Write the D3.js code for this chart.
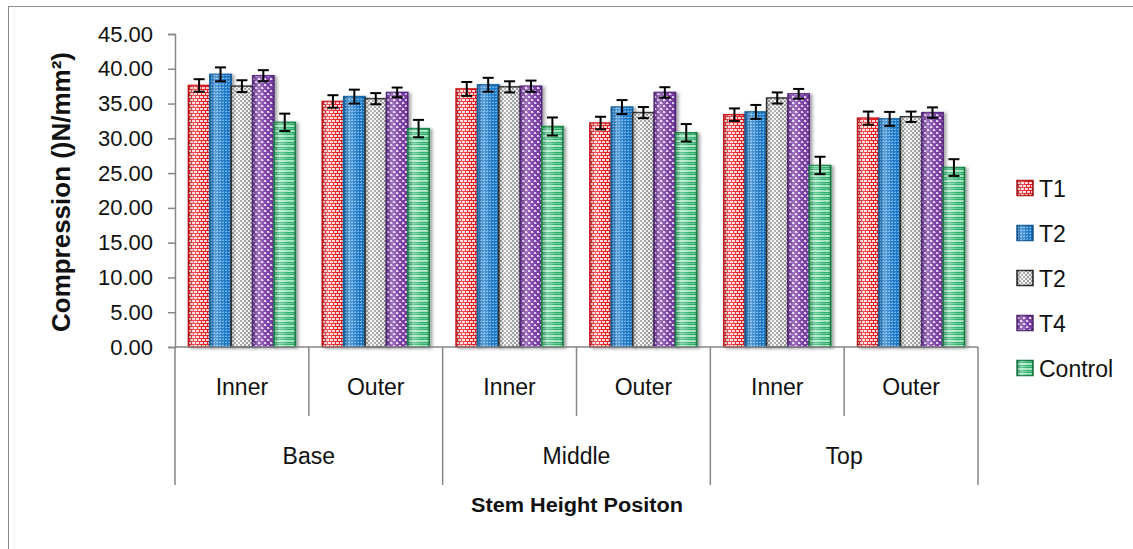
<!DOCTYPE html>
<html><head><meta charset="utf-8">
<script src="https://cdn.jsdelivr.net/npm/d3@7"></script>
<style>
html,body{margin:0;padding:0;background:#fff;}
svg{display:block;font-family:'Liberation Sans',Arial,sans-serif;}
</style></head>
<body>
<svg id="chart" width="1133" height="549"></svg>
<script>
// ---- data ----
const positions = ["Base", "Middle", "Top"];
const sides = ["Inner", "Outer"];
const seriesNames = ["T1", "T2", "T2", "T4", "Control"];
const yTicks = [0, 5, 10, 15, 20, 25, 30, 35, 40, 45];
// order: Base Inner, Base Outer, Middle Inner, Middle Outer, Top Inner, Top Outer
const t1Values = [37.6, 35.3, 37.1, 32.2, 33.4, 32.9];
const t2Values = [39.2, 36.0, 37.7, 34.5, 33.8, 32.8];
const t3Values = [37.5, 35.7, 37.4, 33.7, 35.8, 33.1];
const t4Values = [39.0, 36.6, 37.5, 36.6, 36.4, 33.7];
const controlValues = [32.3, 31.4, 31.7, 30.8, 26.1, 25.8];
const t1Err = [0.9, 0.9, 1.0, 0.9, 0.9, 0.95];
const t2Err = [1.0, 1.0, 1.0, 1.0, 1.0, 1.0];
const t3Err = [0.85, 0.8, 0.8, 0.8, 0.8, 0.75];
const t4Err = [0.8, 0.7, 0.8, 0.75, 0.7, 0.75];
const controlErr = [1.25, 1.25, 1.3, 1.25, 1.25, 1.2];
const xTitle = "Stem Height Positon";
const yTitle = "Compression ()N/mm\u00B2)";

const seriesValues = [t1Values, t2Values, t3Values, t4Values, controlValues];
const seriesErr = [t1Err, t2Err, t3Err, t4Err, controlErr];
const categories = [];
positions.forEach(p => sides.forEach(s => categories.push(p + "|" + s)));

// ---- layout ----
const svg = d3.select("#chart");
const L = 175, R = 978, T = 34, B = 347;
const x0 = d3.scaleBand().domain(categories).range([L, R]).paddingInner(0).paddingOuter(0);
const x1 = d3.scaleBand().domain(d3.range(seriesNames.length)).range([0, x0.bandwidth()]).paddingInner(0).paddingOuter(0.625);
const y = d3.scaleLinear().domain([0, 45]).range([B, T]);

// outer border
svg.append("rect").attr("x", 8.5).attr("y", 6.5).attr("width", 1140).attr("height", 560)
  .attr("fill", "#fff").attr("stroke", "#8c8c8c").attr("stroke-width", 1);

// ---- defs: patterns ----
const defs = svg.append("defs");
const styles = [
  {bg: "#ec1c24", stroke: "#d4141b", legendBorder: "#b31217"},
  {bg: "#1b78c8", stroke: "#156aa8", legendBorder: "#0f5a94"},
  {bg: "#ffffff", stroke: "#333333", legendBorder: "#222"},
  {bg: "#7b3fa6", stroke: "#5c2c86", legendBorder: "#4d2672"},
  {bg: "#2fb46e", stroke: "#1b8a4c", legendBorder: "#137a40"}
];
// T1 brick
let p = defs.append("pattern").attr("id", "pat0").attr("patternUnits", "userSpaceOnUse").attr("width", 8).attr("height", 6);
p.append("rect").attr("width", 8).attr("height", 6).attr("fill", "#ec1c24");
p.append("rect").attr("x", 0).attr("y", 0).attr("width", 3).attr("height", 2).attr("fill", "#fff").attr("opacity", 0.85);
p.append("rect").attr("x", 4).attr("y", 0).attr("width", 3).attr("height", 2).attr("fill", "#fff").attr("opacity", 0.85);
p.append("rect").attr("x", 2).attr("y", 3).attr("width", 3).attr("height", 2).attr("fill", "#fff").attr("opacity", 0.85);
p.append("rect").attr("x", 6).attr("y", 3).attr("width", 2).attr("height", 2).attr("fill", "#fff").attr("opacity", 0.85);
p.append("rect").attr("x", 0).attr("y", 3).attr("width", 1).attr("height", 2).attr("fill", "#fff").attr("opacity", 0.85);
// T2 blue dotted grid
p = defs.append("pattern").attr("id", "pat1").attr("patternUnits", "userSpaceOnUse").attr("width", 3).attr("height", 3);
p.append("rect").attr("width", 3).attr("height", 3).attr("fill", "#1b78c8");
p.append("rect").attr("x", 0).attr("y", 0).attr("width", 2).attr("height", 1).attr("fill", "#8cc8f5").attr("opacity", 0.8);
p.append("rect").attr("x", 1).attr("y", 2).attr("width", 1).attr("height", 1).attr("fill", "#6fb4ea").attr("opacity", 0.7);
// T3 checker
p = defs.append("pattern").attr("id", "pat2").attr("patternUnits", "userSpaceOnUse").attr("width", 4).attr("height", 4);
p.append("rect").attr("width", 4).attr("height", 4).attr("fill", "#f4f4f4");
p.append("rect").attr("x", 0).attr("y", 0).attr("width", 2).attr("height", 2).attr("fill", "#a0a0a0");
p.append("rect").attr("x", 2).attr("y", 2).attr("width", 2).attr("height", 2).attr("fill", "#a0a0a0");
// T4 purple dots diamond
p = defs.append("pattern").attr("id", "pat3").attr("patternUnits", "userSpaceOnUse").attr("width", 6).attr("height", 6);
p.append("rect").attr("width", 6).attr("height", 6).attr("fill", "#7b3fa6");
p.append("rect").attr("x", 0).attr("y", 0).attr("width", 2).attr("height", 2).attr("fill", "#e6d2f5");
p.append("rect").attr("x", 3).attr("y", 3).attr("width", 2).attr("height", 2).attr("fill", "#e6d2f5");
p.append("rect").attr("x", 2).attr("y", 1).attr("width", 1).attr("height", 1).attr("fill", "#b68bd8");
p.append("rect").attr("x", 5).attr("y", 4).attr("width", 1).attr("height", 1).attr("fill", "#b68bd8");
// Control horizontal stripes
p = defs.append("pattern").attr("id", "pat4").attr("patternUnits", "userSpaceOnUse").attr("width", 4).attr("height", 5);
p.append("rect").attr("width", 4).attr("height", 5).attr("fill", "#2fb46e");
p.append("rect").attr("x", 0).attr("y", 0).attr("width", 4).attr("height", 2).attr("fill", "#b9efd1").attr("opacity", 0.9);
p.append("rect").attr("x", 0).attr("y", 3).attr("width", 4).attr("height", 1).attr("fill", "#8fdcb2").attr("opacity", 0.6);

// shading gradient
const g = defs.append("linearGradient").attr("id", "shade").attr("x1", 0).attr("x2", 1).attr("y1", 0).attr("y2", 0);
[[0, "#000", 0.18], [0.25, "#fff", 0.28], [0.5, "#fff", 0.12], [0.85, "#000", 0.0], [1, "#000", 0.22]]
  .forEach(s => g.append("stop").attr("offset", s[0]).attr("stop-color", s[1]).attr("stop-opacity", s[2]));
const f = defs.append("filter").attr("id", "shadow").attr("x", "-20%").attr("y", "-5%").attr("width", "150%").attr("height", "115%");
f.append("feDropShadow").attr("dx", 2.5).attr("dy", 1).attr("stdDeviation", 1.5).attr("flood-color", "#000").attr("flood-opacity", 0.35);

// ---- y axis ----
const yAxis = d3.axisLeft(y).tickValues(yTicks).tickSize(7).tickPadding(15).tickFormat(d3.format(".2f"));
const ya = svg.append("g").attr("transform", `translate(${L},0)`).call(yAxis);
ya.select(".domain").attr("stroke", "#868686").attr("stroke-width", 1.5);
ya.selectAll(".tick line").attr("stroke", "#868686").attr("stroke-width", 1.5);
ya.selectAll(".tick text").attr("font-size", 22).attr("fill", "#111").attr("font-family", "'Liberation Sans',Arial,sans-serif");

// ---- bars ----
const barsG = svg.append("g");
seriesNames.forEach((name, si) => {
  const data = categories.map((c, ci) => ({c, v: seriesValues[si][ci], e: seriesErr[si][ci]}));
  const grp = barsG.append("g");
  grp.selectAll("rect.bar").data(data).join("rect").attr("class", "bar")
    .attr("x", d => x0(d.c) + x1(si))
    .attr("y", d => y(d.v))
    .attr("width", x1.bandwidth())
    .attr("height", d => B - y(d.v))
    .attr("fill", `url(#pat${si})`)
    .attr("stroke", styles[si].stroke).attr("stroke-width", 1.5)
    .attr("filter", "url(#shadow)");
  grp.selectAll("rect.sh").data(data).join("rect").attr("class", "sh")
    .attr("x", d => x0(d.c) + x1(si))
    .attr("y", d => y(d.v))
    .attr("width", x1.bandwidth())
    .attr("height", d => B - y(d.v))
    .attr("fill", "url(#shade)");
});
// error bars
seriesNames.forEach((name, si) => {
  const data = categories.map((c, ci) => ({c, v: seriesValues[si][ci], e: seriesErr[si][ci]}));
  const eg = svg.append("g").attr("stroke", "#000").attr("stroke-width", 2);
  data.forEach(d => {
    const cx = x0(d.c) + x1(si) + x1.bandwidth() / 2;
    const y1 = y(d.v + d.e), y2 = y(d.v - d.e);
    eg.append("line").attr("x1", cx).attr("x2", cx).attr("y1", y1).attr("y2", y2);
    eg.append("line").attr("x1", cx - 5.5).attr("x2", cx + 5.5).attr("y1", y1).attr("y2", y1);
    eg.append("line").attr("x1", cx - 5.5).attr("x2", cx + 5.5).attr("y1", y2).attr("y2", y2);
  });
});

// ---- x axis (multi-level) ----
const axisG = svg.append("g").attr("stroke", "#868686").attr("stroke-width", 1.5);
axisG.append("line").attr("x1", L).attr("x2", R).attr("y1", B).attr("y2", B);
const posScale = d3.scaleBand().domain(positions).range([L, R]);
// outer dividers
positions.forEach(pn => {
  axisG.append("line").attr("x1", posScale(pn)).attr("x2", posScale(pn)).attr("y1", B).attr("y2", 485);
});
axisG.append("line").attr("x1", R).attr("x2", R).attr("y1", B).attr("y2", 485);
// inner dividers
positions.forEach(pn => {
  const xm = x0(pn + "|Outer");
  axisG.append("line").attr("x1", xm).attr("x2", xm).attr("y1", B).attr("y2", 416);
});
// sub labels
svg.append("g").selectAll("text").data(categories).join("text")
  .attr("x", d => x0(d) + x0.bandwidth() / 2).attr("y", 395)
  .attr("text-anchor", "middle").attr("font-size", 23).attr("fill", "#111")
  .text(d => d.split("|")[1]);
svg.append("g").selectAll("text").data(positions).join("text")
  .attr("x", d => posScale(d) + posScale.bandwidth() / 2).attr("y", 464)
  .attr("text-anchor", "middle").attr("font-size", 23).attr("fill", "#111")
  .text(d => d);

// axis titles
svg.append("text").attr("x", 577).attr("y", 512).attr("text-anchor", "middle")
  .attr("font-size", 20).attr("font-weight", "bold").attr("fill", "#111")
  .attr("textLength", 212).attr("lengthAdjust", "spacingAndGlyphs").text(xTitle);
svg.append("text").attr("transform", "translate(70,192) rotate(-90)").attr("text-anchor", "middle")
  .attr("font-size", 25).attr("font-weight", "bold").attr("fill", "#111")
  .attr("textLength", 280).attr("lengthAdjust", "spacingAndGlyphs").text(yTitle);

// ---- legend ----
const leg = svg.append("g").selectAll("g").data(seriesNames).join("g")
  .attr("transform", (d, i) => `translate(1017,${188 + i * 45})`);
leg.append("rect").attr("x", 0).attr("y", -7.5).attr("width", 16).attr("height", 15)
  .attr("fill", (d, i) => `url(#pat${i})`).attr("stroke", (d, i) => styles[i].legendBorder).attr("stroke-width", 1.5);
leg.append("rect").attr("x", 0).attr("y", -7.5).attr("width", 16).attr("height", 15).attr("fill", "url(#shade)");
leg.append("text").attr("x", 22).attr("y", 8.5).attr("font-size", 23).attr("fill", "#111").text(d => d);
</script>
</body></html>
